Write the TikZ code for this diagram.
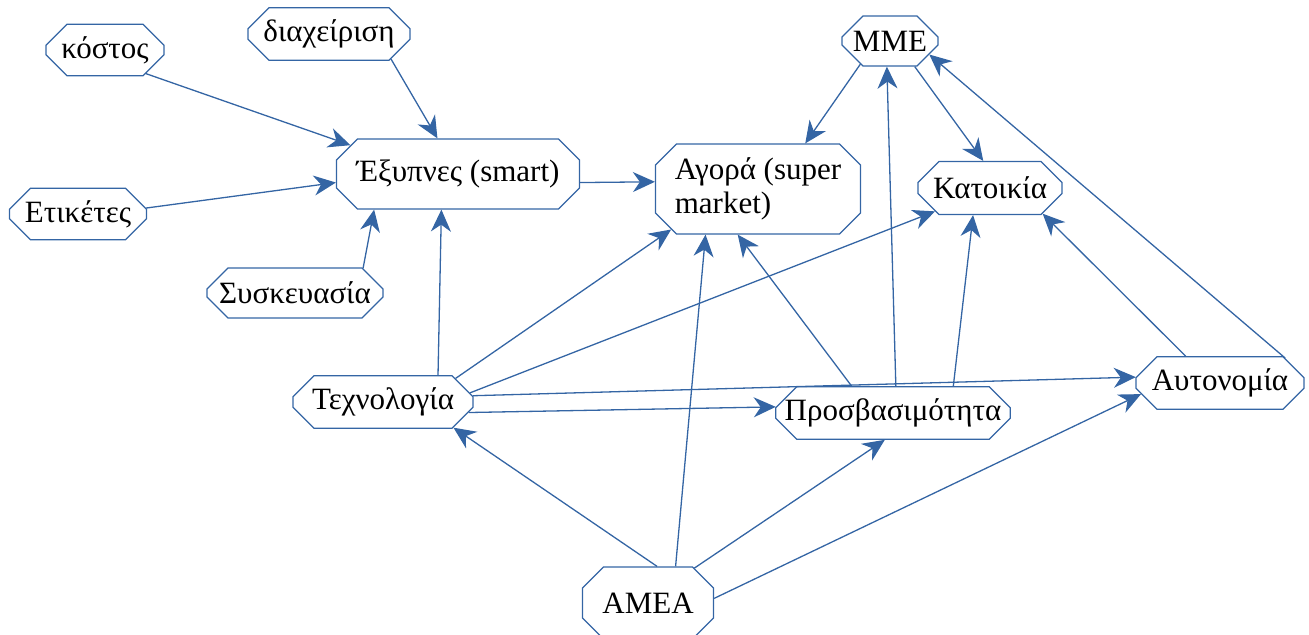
\documentclass[tikz,border=0pt]{standalone}
\usepackage{fontspec}
\newfontfamily\greekserif{Liberation Serif}
\usetikzlibrary{shapes.misc,arrows.meta}
\definecolor{linkblue}{HTML}{3465A4}
\tikzset{
  box/.style={chamfered rectangle, chamfered rectangle xsep=4.5pt,
    chamfered rectangle ysep=6pt, draw=linkblue, line width=0.6pt,
    inner sep=0pt, font=\greekserif\fontsize{15.5}{17}\selectfont},
  link/.style={->, draw=linkblue, line width=0.65pt}
}
\begin{document}
\begin{tikzpicture}[x=0.5pt, y=-0.5pt, >={Stealth[length=11pt,width=10pt,inset=3.5pt]}]
	\useasboundingbox (0,0) rectangle (1309,634);
	\clip (0,0) rectangle (1309,634);
	% left group
	\node[box, minimum width=59pt, minimum height=24pt] (cost) at (105,50) {κόστος};
	\node[box, minimum width=81pt, minimum height=25pt] (mgmt) at (329,34) {διαχείριση};
	\node[box, minimum width=121.5pt, minimum height=35pt] (smart) at (458,174) {Έξυπνες (smart)};
	\node[box, minimum width=68.5pt, minimum height=24.5pt] (labels) at (78,214) {Ετικέτες};
	\node[box, minimum width=88pt, minimum height=25pt] (pack) at (295,293) {Συσκευασία};
	% right group
	\node[box, minimum width=102.5pt, minimum height=45pt, align=left] (market) at (758,189) {Αγορά (super\\market)};
	\node[box, minimum width=48pt, minimum height=25pt] (media) at (890,41) {ΜΜΕ};
	\node[box, minimum width=72pt, minimum height=26.5pt] (home) at (990,188) {Κατοικία};
	\node[box, minimum width=90pt, minimum height=25pt] (tech) at (383,402) {Τεχνολογία};
	\node[box, minimum width=113pt, minimum height=20.5pt] (access) at (893,413) {Προσβασιμότητα};
	\node[box, minimum width=84pt, minimum height=21.5pt] (auto) at (1220,383) {Αυτονομία};
	\node[box, minimum width=65.5pt, minimum height=36pt] (amea) at (648,603) {ΑΜΕΑ};

	\draw[link] (cost.-30) -- (smart.165);
	\draw[link] (mgmt.-22) -- (smart.120);
	\draw[link] (labels.5) -- (smart.184);
	\draw[link] (pack.20) -- (smart.203);
	\draw[link] (tech.26) -- (smart.245);
	\draw[link] (smart.-4) -- (market.176);
	\draw[link] (media.218) -- (market.44);
	\draw[link] (media.-46) -- (home.104);
	\draw[link] (tech.18) -- (market.205);
	\draw[link] (tech.6) -- (home.203);
	\draw[link] (tech.4) -- (auto.176);
	\draw[link] (tech.-7) -- (access.177);
	\draw[link] (amea.76) -- (tech.-20);
	\draw[link] (amea.53) -- (market.221);
	\draw[link] (amea.37) -- (access.-107);
	\draw[link] (amea.4) -- (auto.188);
	\draw[link] (access.147) -- (market.246);
	\draw[link] (access.84) -- (media.263);
	\draw[link] (access.24) -- (home.238);
	\draw[link] (auto.142) -- (home.-26);
	\draw[link] (auto.21) -- (media.-19);
\end{tikzpicture}
\end{document}
